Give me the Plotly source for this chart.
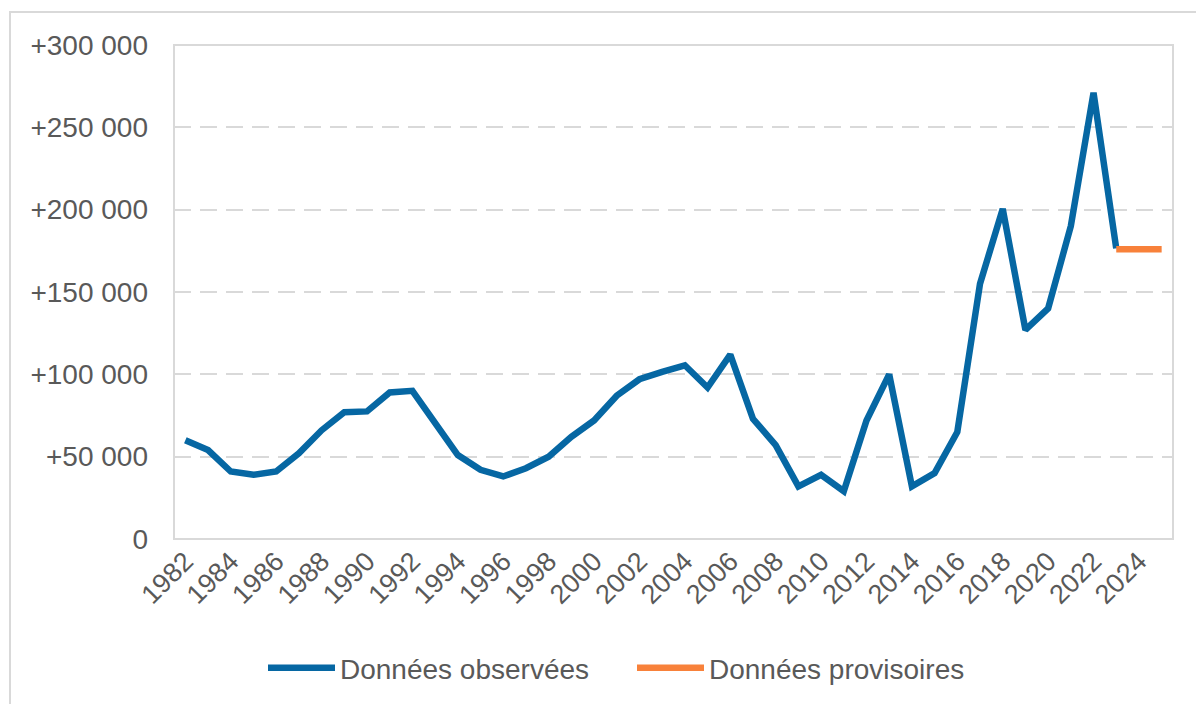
import plotly.graph_objects as go

years_obs = list(range(1982, 2024))
values_obs = [60000, 54000, 41000, 39000, 41000, 52000, 66000, 77000, 77500, 89000,
              90000, 70000, 51000, 42000, 38000, 43000, 50000, 62000, 72000, 87000,
              97000, 101500, 105500, 92000, 112000, 73000, 57000, 32000, 39000, 29000,
              72000, 100000, 32000, 40000, 65000, 155000, 200500, 127000, 140000, 190000,
              271000, 176500]
years_prov = [2023, 2024, 2025]
values_prov = [176000, 176000, 176000]

x_tickvals = list(range(1982, 2025, 2))
x_ticktext = [str(y) for y in x_tickvals]
y_tickvals = [0, 50000, 100000, 150000, 200000, 250000, 300000]
y_ticktext = ["0", "+50 000", "+100 000", "+150 000", "+200 000", "+250 000", "+300 000"]

BLUE = "#0667a3"
ORANGE = "#f8813a"
GRID = "#d9d9d9"
TXT = "#595959"
FONT = "Liberation Sans, Arial, sans-serif"

# plot area in figure px (page has 8px body offset)
L, T, PW, PH = 166, 37, 999, 494

fig = go.Figure()
fig.add_trace(go.Scatter(x=years_obs, y=values_obs, mode="lines", name="Données observées",
                         line=dict(color=BLUE, width=6.5)))
fig.add_trace(go.Scatter(x=years_prov, y=values_prov, mode="lines", name="Données provisoires",
                         line=dict(color=ORANGE, width=6.5)))

fig.update_layout(
    width=1204, height=704,
    margin=dict(l=L, r=1204 - L - PW, t=T, b=704 - T - PH),
    paper_bgcolor="white", plot_bgcolor="white",
    font=dict(family=FONT, size=28, color=TXT),
    showlegend=True,
    legend=dict(orientation="h", x=(255 - L) / PW, xanchor="left", y=-0.261, yanchor="middle",
                itemwidth=67, entrywidth=287, font=dict(size=28, color=TXT), traceorder="normal",
                tracegroupgap=0, itemclick=False),
    xaxis=dict(range=[1981.5, 2025.5], tickvals=x_tickvals, ticktext=x_ticktext,
               tickangle=-45, showgrid=False, zeroline=False, showline=False,
               ticks="", tickfont=dict(size=27, color=TXT), fixedrange=True),
    yaxis=dict(range=[0, 300000], tickvals=y_tickvals, ticktext=y_ticktext,
               showgrid=True, gridcolor=GRID, gridwidth=2, griddash="17px,9px",
               zeroline=False, showline=False, ticks="", ticklabelstandoff=25,
               tickfont=dict(size=28, color=TXT), fixedrange=True),
    shapes=[
        dict(type="rect", xref="paper", yref="paper", x0=0, x1=1, y0=0, y1=1,
             line=dict(color=GRID, width=2), fillcolor="rgba(0,0,0,0)", layer="below"),
        dict(type="rect", xref="paper", yref="paper",
             x0=(2 - L) / PW, x1=(1230 - L) / PW,
             y0=(T + PH - 730) / PH, y1=(T + PH - 4) / PH,
             line=dict(color=GRID, width=2), fillcolor="rgba(0,0,0,0)", layer="below"),
    ],
)

fig.write_html("out.html")
